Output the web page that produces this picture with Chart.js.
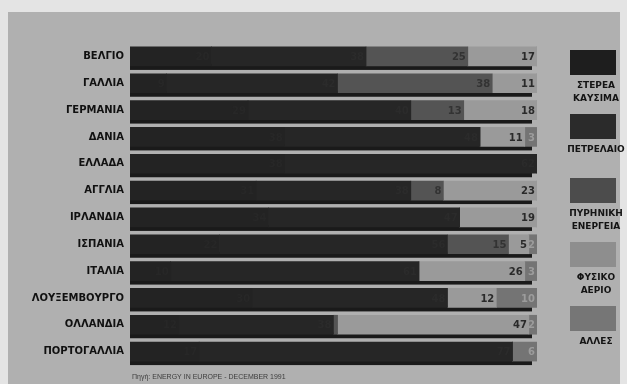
<!DOCTYPE html>
<html>
<head>
<meta charset="utf-8">
<script src="https://cdn.jsdelivr.net/npm/chart.js@4"></script>
<style>
  html, body { margin: 0; padding: 0; background: #e4e4e4; }
  #wrap { width: 627px; height: 384px; position: relative; }
</style>
</head>
<body>
<div id="wrap"><canvas id="chart1" width="627" height="384"></canvas></div>
<script>
// countries (top to bottom)
const countries = ['ΒΕΛΓΙΟ', 'ΓΑΛΛΙΑ', 'ΓΕΡΜΑΝΙΑ', 'ΔΑΝΙΑ', 'ΕΛΛΑΔΑ', 'ΑΓΓΛΙΑ', 'ΙΡΛΑΝΔΙΑ',
  'ΙΣΠΑΝΙΑ', 'ΙΤΑΛΙΑ', 'ΛΟΥΞΕΜΒΟΥΡΓΟ', 'ΟΛΛΑΝΔΙΑ', 'ΠΟΡΤΟΓΑΛΛΙΑ'];

// % share of each energy source
const solidFuels = [20, 9, 29, 38, 38, 31, 34, 22, 10, 30, 12, 17];
const oil        = [38, 42, 40, 48, 62, 38, 47, 56, 61, 48, 38, 77];
const nuclear    = [25, 38, 13, 0, 0, 8, 0, 15, 0, 0, 1, 0];
const naturalGas = [17, 11, 18, 11, 0, 23, 19, 5, 26, 12, 47, 0];
const others     = [0, 0, 0, 3, 0, 0, 0, 2, 3, 10, 2, 6];

const seriesNames = [['ΣΤΕΡΕΑ', 'ΚΑΥΣΙΜΑ'], ['ΠΕΤΡΕΛΑΙΟ'], ['ΠΥΡΗΝΙΚΗ', 'ΕΝΕΡΓΕΙΑ'], ['ΦΥΣΙΚΟ', 'ΑΕΡΙΟ'], ['ΑΛΛΕΣ']];
const sourceNote = 'Πηγή: ENERGY IN EUROPE - DECEMBER 1991';

const FONT = '"DejaVu Sans", "Liberation Sans", sans-serif';
const SMALL_FONT = '"Liberation Sans", Arial, sans-serif';

const datasets = [
  { label: seriesNames[0].join(' '), data: solidFuels, backgroundColor: '#232323', legendColor: '#1e1e1e', textColor: '#272727' },
  { label: seriesNames[1].join(' '), data: oil, backgroundColor: '#262626', legendColor: '#2b2b2b', textColor: '#2b2b2b' },
  { label: seriesNames[2].join(' '), data: nuclear, backgroundColor: '#545454', legendColor: '#4c4c4c', textColor: '#333333' },
  { label: seriesNames[3].join(' '), data: naturalGas, backgroundColor: '#9a9a9a', legendColor: '#8e8e8e', textColor: '#2a2a2a' },
  { label: seriesNames[4].join(' '), data: others, backgroundColor: '#747474', legendColor: '#767676', textColor: '#9c9c9c' }
];
datasets.forEach(d => { d.barThickness = 19; d.borderWidth = 0; });

/* background panel, bar shadows, value labels, legend, source */
const paperPlugin = {
  id: 'paper',
  beforeDraw(chart) {
    const ctx = chart.ctx;
    ctx.save();
    ctx.fillStyle = '#e4e4e4';
    ctx.fillRect(0, 0, chart.width, chart.height);
    ctx.fillStyle = '#b0b0b0';
    ctx.fillRect(8, 12, chart.width - 15, chart.height - 12);
    ctx.restore();
  },
  beforeDatasetsDraw(chart) {
    // dark strip under every bar (the printed 3D shadow)
    const ctx = chart.ctx;
    const xs = chart.scales.x;
    const meta = chart.getDatasetMeta(0);
    ctx.save();
    ctx.fillStyle = '#1a1a1a';
    meta.data.forEach(bar => {
      const bottom = bar.y + bar.height / 2;
      ctx.fillRect(xs.getPixelForValue(0), bottom - 2, xs.getPixelForValue(100) - 5 - xs.getPixelForValue(0), 6);
    });
    ctx.restore();
  },
  afterDatasetsDraw(chart) {
    const ctx = chart.ctx;
    ctx.save();
    ctx.font = 'bold 10px ' + FONT;
    ctx.textAlign = 'right';
    ctx.textBaseline = 'middle';
    chart.data.datasets.forEach((ds, i) => {
      const meta = chart.getDatasetMeta(i);
      meta.data.forEach((bar, j) => {
        const v = ds.data[j];
        if (v < 2) return;
        ctx.fillStyle = ds.textColor;
        ctx.fillText(String(v), bar.x - 2, bar.y + 1);
      });
    });
    // legend column
    const cx = 593;
    ctx.textAlign = 'center';
    ctx.font = 'bold 9px ' + FONT;
    chart.data.datasets.forEach((ds, i) => {
      const top = 50 + i * 64;
      ctx.fillStyle = ds.legendColor;
      ctx.fillRect(cx - 23, top, 46, 25);
      ctx.fillStyle = '#141414';
      seriesNames[i].forEach((line, k) => {
        ctx.fillText(line, cx + 3, top + 36 + k * 12.5);
      });
    });
    // source line
    ctx.textAlign = 'left';
    ctx.font = '7px ' + SMALL_FONT;
    ctx.fillStyle = '#3c3c3c';
    ctx.fillText(sourceNote, chart.chartArea.left + 2, chart.height - 7);
    ctx.restore();
  }
};

const config = {
  type: 'bar',
  data: { labels: countries, datasets: datasets },
  options: {
    indexAxis: 'y',
    responsive: false,
    animation: false,
    layout: { padding: { top: 43, bottom: 19, right: 90, left: 0 } },
    plugins: { legend: { display: false }, tooltip: { enabled: false } },
    scales: {
      x: { stacked: true, min: 0, max: 100, display: false },
      y: {
        stacked: true,
        grid: { display: false, drawTicks: false },
        border: { display: false },
        afterFit(scale) { scale.width = 130; },
        ticks: {
          padding: 6,
          color: '#111111',
          font: { family: FONT, size: 10, weight: 'bold' }
        }
      }
    }
  },
  plugins: [paperPlugin]
};

const myChart = new Chart(document.getElementById('chart1'), config);
</script>
</body>
</html>
